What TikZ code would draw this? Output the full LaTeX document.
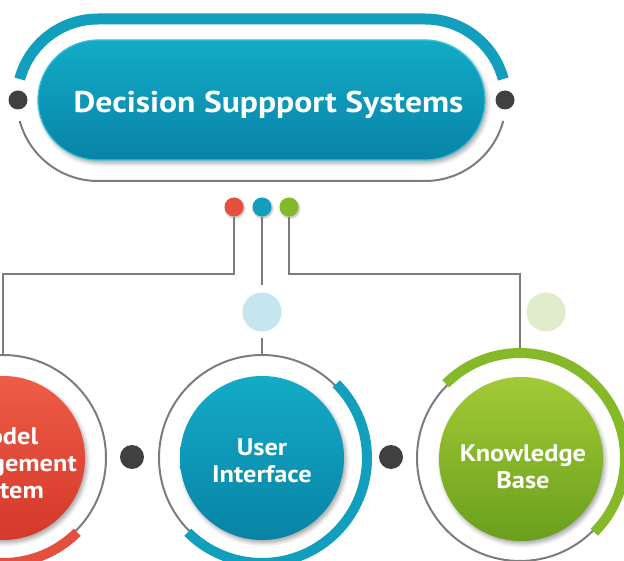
\documentclass[tikz,border=0pt]{standalone}
\usepackage{fontspec}
\setmainfont{PT Sans}
\newfontfamily\titlefont[FakeStretch=1.12]{PT Sans}
\newfontfamily\topicfont[FakeStretch=1.1]{PT Sans}
\usetikzlibrary{shapes.misc,shadows,shadows.blur,calc}

\definecolor{tealA}{HTML}{13ABC6}
\definecolor{tealB}{HTML}{0883A6}
\definecolor{tealArc}{HTML}{129EBD}
\definecolor{tealRim}{HTML}{3CC3DA}
\definecolor{redA}{HTML}{EE5C47}
\definecolor{redB}{HTML}{D4382A}
\definecolor{redArc}{HTML}{E4503D}
\definecolor{greenA}{HTML}{A3CA36}
\definecolor{greenB}{HTML}{6A9F1D}
\definecolor{greenArc}{HTML}{86B92A}
\definecolor{lineGray}{HTML}{7C7C7C}
\definecolor{darkDot}{HTML}{404040}
\definecolor{paleBlue}{HTML}{C5E5EF}
\definecolor{paleGreen}{HTML}{E0ECCB}

\tikzset{
  conn/.style={draw=lineGray, line width=2pt},
  ringline/.style={draw=lineGray, line width=2pt},
  softshadow/.style={blur shadow={shadow xshift=2pt, shadow yshift=-3pt,
      shadow blur radius=4pt, shadow opacity=35}},
  pill/.style={rounded rectangle, minimum width=447pt, minimum height=120pt,
      inner sep=0pt, outer sep=0pt, top color=tealA, bottom color=tealB,
      draw=tealRim, line width=1.2pt, softshadow},
  titletext/.style={text=white, inner sep=0pt,
      font=\titlefont\fontsize{30}{36}\selectfont\bfseries},
  darkdot/.style={circle, fill=darkDot, minimum size=19pt, inner sep=0pt},
  middot/.style={circle, fill=darkDot, minimum size=24pt, inner sep=0pt},
  smalldot/.style={circle, minimum size=19pt, inner sep=0pt,
      blur shadow={shadow xshift=1pt, shadow yshift=-1.5pt,
      shadow blur radius=2pt, shadow opacity=30}},
  palecircle/.style={circle, minimum size=39pt, inner sep=0pt},
  ring/.style={circle, minimum size=206pt, inner sep=0pt, outer sep=0pt,
      ringline},
  disk/.style={circle, minimum size=164pt, inner sep=0pt,
      shading angle=45, softshadow},
  topictext/.style={align=center, text=white, inner sep=0pt,
      font=\topicfont\fontsize{24}{27}\selectfont\bfseries},
  band/.style={line width=10pt}
}

\begin{document}
\begin{tikzpicture}[x=1pt,y=1pt]
\useasboundingbox (0,0) rectangle (624,-561);
\clip (0,0) rectangle (624,-561);

% ---- title frame: teal band on top, thin grey line below ----
\coordinate (cl) at (98,-100);
\coordinate (cr) at (425,-100);
\draw[tealArc, line width=11pt]
  ($(cl)+(165:81)$) arc[start angle=165, end angle=90, radius=81]
  -- ($(cr)+(90:81)$) arc[start angle=90, end angle=15, radius=81];
\draw[ringline]
  ($(cr)+(-15:81)$) arc[start angle=-15, end angle=-90, radius=81]
  -- ($(cl)+(-90:81)$) arc[start angle=-90, end angle=-165, radius=81];

\node[pill] (title) at (261.5,-100) {};
\node[titletext] (titleText) at (268.5,-105) {Decision Suppport Systems};
\node[darkdot] (tl) at (18,-100) {};
\node[darkdot] (tr) at (505,-100) {};

% ---- three small coloured dots ----
\node[smalldot, fill=redArc]   (dR) at (234,-207) {};
\node[smalldot, fill=tealArc]  (dT) at (262,-207) {};
\node[smalldot, fill=greenArc] (dG) at (289,-207) {};

% ---- pale decorative circles ----
\node[palecircle, fill=paleBlue]  (pb) at (262,-312) {};
\node[palecircle, fill=paleGreen] (pg) at (546,-312) {};

% ---- outer rings of the three topics ----
\node[ring] (ringL) at (3,-458) {};
\node[ring] (ringM) at (262,-458) {};
\node[ring] (ringR) at (520,-458) {};

% ---- connectors ----
\coordinate (hl) at (0,-274);
\draw[conn] (dR.south) -- (dR.south |- hl) -| (ringL.north);
\draw[conn, shorten >=7pt] (dT.south) -- (pb.north);
\draw[conn, shorten <=6pt] (pb.south) -- (ringM.north);
\draw[conn] (dG.south) -- (dG.south |- hl) -| (ringR.north);

% ---- coloured bands on the rings ----
\draw[redArc, band]
  ($(ringL.center)+(-45:105)$) arc[start angle=-45, end angle=-225, radius=105];
\draw[tealArc, band]
  ($(ringM.center)+(45:105)$) arc[start angle=45, end angle=-135, radius=105];
\draw[greenArc, band]
  ($(ringR.center)+(135:105)$) arc[start angle=135, end angle=-45, radius=105];

% ---- topic disks and their labels ----
\node[disk, top color=redA, bottom color=redB] (mL) at (3,-458) {};
\node[disk, top color=tealA, bottom color=tealB] (mM) at (262,-458) {};
\node[disk, top color=greenA, bottom color=greenB] (mR) at (521,-459) {};

\node[topictext] (tL) at (3,-466) {Model\\Management\\System};
\node[topictext] (tM) at (262,-461) {User\\Interface};
\node[topictext] (tR) at (523,-467) {Knowledge\\Base};

% ---- dots between the topics ----
\node[middot] (s1) at (132,-457) {};
\node[middot] (s2) at (391,-457) {};
\end{tikzpicture}
\end{document}
